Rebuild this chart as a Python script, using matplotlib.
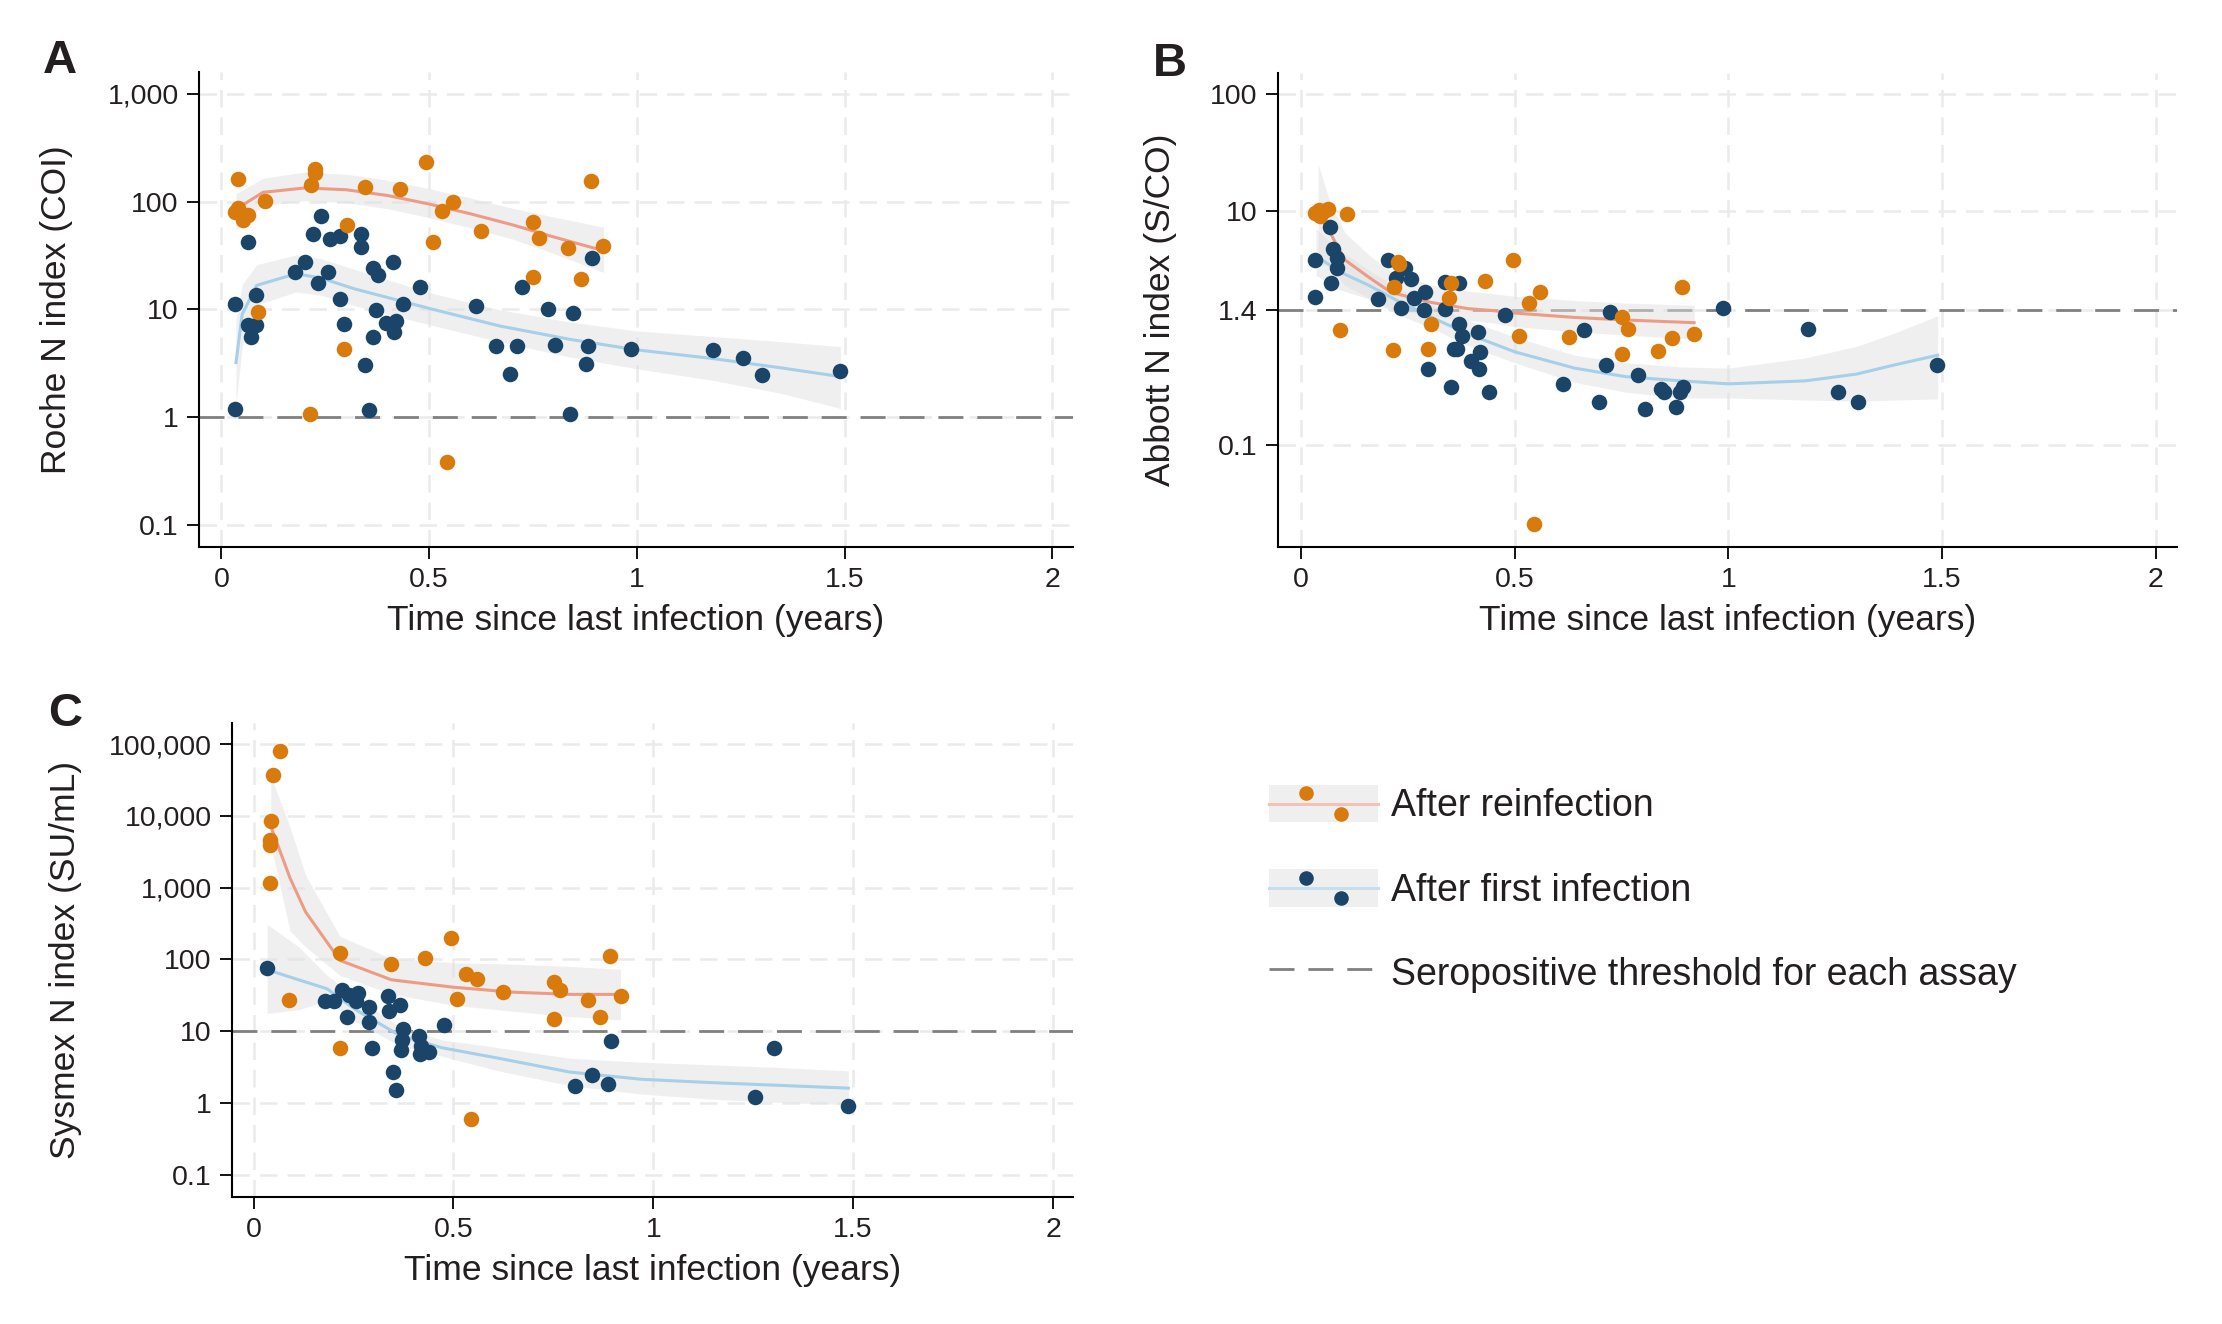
import numpy as np
import matplotlib
matplotlib.use('Agg')
import matplotlib.pyplot as plt
from matplotlib.legend_handler import HandlerBase
from matplotlib.patches import Rectangle, Patch
from matplotlib.lines import Line2D

plt.rcParams['font.family'] = ['Liberation Sans', 'DejaVu Sans']

# ---- data ----
# Panel A, Roche (COI)
a_re_t = [0.041, 0.033, 0.041, 0.051, 0.063, 0.105, 0.216, 0.225, 0.226, 0.345, 0.431, 0.492, 0.302, 0.530,
          0.557, 0.509, 0.624, 0.750, 0.765, 0.835, 0.890, 0.918, 0.750, 0.866, 0.089, 0.295, 0.214, 0.542]
a_re_y = [163, 80, 87, 68, 75, 101, 143, 203, 184, 137, 132, 232, 61, 82,
          100, 42, 53, 65, 46, 37, 157, 39, 19.9, 19.2, 9.5, 4.3, 1.07, 0.38]
a_fi_t = [0.033, 0.033, 0.065, 0.063, 0.072, 0.084, 0.084, 0.178, 0.202, 0.221, 0.233, 0.240, 0.256, 0.262,
          0.286, 0.286, 0.295, 0.336, 0.336, 0.346, 0.355, 0.365, 0.376, 0.371, 0.365, 0.395, 0.413, 0.420,
          0.415, 0.437, 0.477, 0.614, 0.660, 0.695, 0.712, 0.724, 0.786, 0.803, 0.840, 0.846, 0.877, 0.883,
          0.892, 0.986, 1.184, 1.256, 1.302, 1.489]
a_fi_y = [11.2, 1.18, 42, 7.1, 5.5, 13.6, 7.2, 22.4, 27.6, 50, 17.5, 74, 22, 45,
          48, 12.6, 7.3, 50, 37.6, 3.05, 1.16, 24, 21, 9.8, 5.5, 7.4, 27.4, 7.8,
          6.2, 11.2, 16, 10.8, 4.6, 2.5, 4.6, 16, 10.1, 4.7, 1.06, 9.2, 3.1, 4.6,
          30, 4.3, 4.2, 3.5, 2.45, 2.7]
a_re_fit_t = [0.035, 0.1, 0.2, 0.3, 0.4, 0.5, 0.6, 0.7, 0.8, 0.92]
a_re_fit = [85, 122, 134, 129, 114, 95, 77, 61, 47, 35]
a_re_hi = [118, 165, 188, 180, 158, 132, 108, 87, 72, 58]
a_re_lo = [55, 92, 102, 98, 86, 71, 57, 45, 33, 22]
a_fi_fit_t = [0.035, 0.05, 0.085, 0.18, 0.24, 0.32, 0.5, 0.67, 0.84, 1.0, 1.18, 1.35, 1.49]
a_fi_fit = [3.2, 9, 16.7, 21.4, 19.5, 15.5, 10.2, 7.0, 5.25, 4.2, 3.5, 2.85, 2.37]
a_fi_hi = [8, 17, 26, 32, 29.5, 23.5, 14.3, 9.9, 7.6, 6.3, 5.6, 5.0, 4.5]
a_fi_lo = [1.3, 4.5, 11, 14.5, 13.5, 10.8, 7.2, 5.0, 3.6, 2.8, 2.2, 1.65, 1.2]

# Panel B, Abbott (S/CO)
b_re_t = [0.033, 0.042, 0.045, 0.053, 0.063, 0.107, 0.090, 0.216, 0.218, 0.226, 0.230, 0.296, 0.303, 0.346,
          0.350, 0.431, 0.495, 0.511, 0.533, 0.560, 0.545, 0.626, 0.751, 0.751, 0.766, 0.836, 0.868, 0.891, 0.919]
b_re_y = [9.5, 10.2, 9.0, 9.9, 10.3, 9.3, 0.96, 0.64, 2.23, 3.65, 3.5, 0.66, 1.07, 1.78,
          2.4, 2.5, 3.8, 0.84, 1.61, 2.03, 0.0208, 0.83, 1.23, 0.59, 0.98, 0.63, 0.82, 2.23, 0.88]
b_fi_t = [0.033, 0.033, 0.067, 0.075, 0.070, 0.085, 0.085, 0.180, 0.203, 0.223, 0.233, 0.243, 0.258, 0.265,
          0.288, 0.291, 0.296, 0.336, 0.338, 0.350, 0.370, 0.370, 0.376, 0.358, 0.366, 0.398, 0.415, 0.418,
          0.416, 0.440, 0.478, 0.614, 0.661, 0.698, 0.714, 0.724, 0.788, 0.804, 0.843, 0.849, 0.878, 0.886,
          0.894, 0.988, 1.186, 1.257, 1.304, 1.489]
b_fi_y = [3.8, 1.84, 7.3, 4.7, 2.4, 3.96, 3.2, 1.76, 3.8, 2.63, 1.47, 3.24, 2.6, 1.78,
          1.42, 2.0, 0.44, 2.46, 1.43, 0.31, 2.4, 1.07, 0.85, 0.66, 0.65, 0.52, 0.92, 0.62,
          0.44, 0.28, 1.28, 0.33, 0.95, 0.23, 0.48, 1.37, 0.39, 0.2, 0.30, 0.28, 0.21, 0.28,
          0.31, 1.47, 0.98, 0.28, 0.23, 0.48]
b_re_fit_t = [0.04, 0.064, 0.102, 0.158, 0.21, 0.304, 0.391, 0.445, 0.5, 0.64, 0.76, 0.92]
b_re_fit = [9.0, 6.9, 3.8, 2.7, 2.0, 1.64, 1.45, 1.40, 1.33, 1.22, 1.16, 1.10]
b_re_hi = [25, 13, 6.5, 4.2, 3.0, 2.3, 2.05, 1.95, 1.85, 1.7, 1.62, 1.55]
b_re_lo = [3.5, 3.4, 2.3, 1.8, 1.45, 1.25, 1.15, 1.1, 1.02, 0.92, 0.86, 0.8]
b_fi_fit_t = [0.035, 0.09, 0.158, 0.225, 0.308, 0.391, 0.5, 0.64, 0.76, 0.89, 1.0, 1.18, 1.3, 1.39, 1.49]
b_fi_fit = [4.1, 3.0, 2.3, 1.7, 1.21, 0.88, 0.62, 0.45, 0.38, 0.35, 0.33, 0.35, 0.40, 0.48, 0.58]
b_fi_hi = [7.0, 4.6, 3.1, 2.2, 1.55, 1.15, 0.83, 0.58, 0.50, 0.46, 0.45, 0.55, 0.69, 0.9, 1.26]
b_fi_lo = [2.8, 2.1, 1.76, 1.3, 0.98, 0.70, 0.50, 0.34, 0.28, 0.25, 0.25, 0.24, 0.235, 0.24, 0.245]

# Panel C, Sysmex (SU/mL)
c_re_t = [0.066, 0.048, 0.043, 0.041, 0.041, 0.041, 0.089, 0.216, 0.216, 0.345, 0.430, 0.493, 0.509, 0.532,
          0.559, 0.543, 0.625, 0.752, 0.766, 0.752, 0.836, 0.866, 0.891, 0.918]
c_re_y = [80000, 37500, 8600, 4550, 3970, 1150, 27, 122, 5.9, 87, 104, 196, 28, 62,
          54, 0.6, 35, 49, 38, 15, 27, 15.8, 112, 31]
c_fi_t = [0.034, 0.179, 0.200, 0.221, 0.238, 0.261, 0.257, 0.234, 0.289, 0.288, 0.296, 0.336, 0.338, 0.366,
          0.348, 0.357, 0.375, 0.371, 0.368, 0.414, 0.420, 0.416, 0.439, 0.477, 0.804, 0.846, 0.886, 0.893,
          1.255, 1.302, 1.488]
c_fi_y = [76, 26, 26.5, 37, 32, 34, 26.5, 15.8, 22, 13.6, 5.9, 31, 18.9, 23,
          2.7, 1.5, 10.8, 7.5, 5.4, 8.6, 6.3, 4.8, 5.2, 12.1, 1.7, 2.45, 1.82, 7.2,
          1.21, 5.9, 0.9]
c_re_fit_t = [0.043, 0.091, 0.13, 0.216, 0.345, 0.5, 0.648, 0.791, 0.918]
c_re_fit = [7200, 1370, 460, 97, 52, 41, 35, 32.6, 32.6]
c_re_hi = [36000, 7000, 1500, 210, 103, 90, 86, 80, 73]
c_re_lo = [4000, 250, 150, 60, 33, 23, 19, 16, 14.4]
c_fi_fit_t = [0.034, 0.113, 0.184, 0.255, 0.363, 0.47, 0.613, 0.791, 0.97, 1.148, 1.327, 1.488]
c_fi_fit = [72, 52, 39, 20, 8.9, 5.9, 4.2, 2.7, 2.14, 1.92, 1.75, 1.61]
c_fi_hi = [308, 150, 60, 30, 11.7, 7.6, 5.9, 4.2, 3.7, 3.4, 3.1, 2.8]
c_fi_lo = [17.7, 20, 26.5, 13.5, 6.4, 4.5, 2.8, 1.75, 1.33, 1.13, 1.01, 0.95]

x_ticks = [0, 0.5, 1, 1.5, 2]
x_labels = ['0', '0.5', '1', '1.5', '2']
a_ticks = [0.1, 1, 10, 100, 1000]
a_labels = ['0.1', '1', '10', '100', '1,000']
b_ticks = [0.1, 1.4, 10, 100]
b_labels = ['0.1', '1.4', '10', '100']
c_ticks = [0.1, 1, 10, 100, 1000, 10000, 100000]
c_labels = ['0.1', '1', '10', '100', '1,000', '10,000', '100,000']

# ---- styles ----
ORANGE = '#d97a0c'
BLUE = '#1a4568'
ORANGE_LINE = '#ee9b85'
BLUE_LINE = '#a6cfea'
TEXT = '#231f20'
W, H = 2222, 1324


def px_axes(left, top, right, bottom):
    return [left / W, 1 - bottom / H, (right - left) / W, (bottom - top) / H]


def draw_panel(ax, re_t, re_y, fi_t, fi_y, re_fit, fi_fit, thresh, ylim, yticks, ylabels, ylab, lab_x):
    ax.set_yscale('log')
    ax.set_xlim(-0.054, 2.05)
    ax.set_ylim(*ylim)
    ax.grid(True, color='#ebebeb', lw=1.8, linestyle=(0, (7, 4)))
    ax.set_axisbelow(True)
    ax.axhline(thresh, color='#808080', lw=2, linestyle=(0, (9, 5)), zorder=1.5)
    for (t, f, lo, hi), col in [(fi_fit, BLUE_LINE), (re_fit, ORANGE_LINE)]:
        ax.fill_between(t, lo, hi, color='#e0e0e0', alpha=0.5, lw=0, zorder=2)
        ax.plot(t, f, color=col, lw=2.2, zorder=3)
    ax.scatter(fi_t, fi_y, s=125, color=BLUE, lw=0, zorder=4)
    ax.scatter(re_t, re_y, s=125, color=ORANGE, lw=0, zorder=5)
    ax.set_xticks(x_ticks, x_labels)
    ax.set_yticks(yticks, ylabels)
    ax.minorticks_off()
    ax.tick_params(direction='out', length=8.6, width=1.3, pad=6, labelsize=20.5,
                   labelcolor=TEXT, color='black')
    for s in ['top', 'right']:
        ax.spines[s].set_visible(False)
    for s in ['left', 'bottom']:
        ax.spines[s].set_linewidth(1.5)
    ax.set_xlabel('Time since last infection (years)', fontsize=25.5, color=TEXT, labelpad=8)
    ax.set_ylabel(ylab, fontsize=25.5, color=TEXT)
    ax.yaxis.set_label_coords(lab_x, 0.5)


class BandHandler(HandlerBase):
    def __init__(self, dot, line):
        super().__init__()
        self.dot = dot
        self.line = line

    def create_artists(self, legend, orig_handle, xdescent, ydescent, width, height, fontsize, trans):
        x0, y0 = -xdescent, -ydescent
        box = Rectangle((x0, y0), width, height, facecolor='#efefef', edgecolor='none', transform=trans)
        ln = Line2D([x0, x0 + width], [y0 + height / 2] * 2, color=self.line, lw=2.2, transform=trans)
        dots = Line2D([x0 + 0.34 * width, x0 + 0.66 * width], [y0 + 0.78 * height, y0 + 0.22 * height],
                      ls='none', marker='o', ms=10.5, mfc=self.dot, mec='none', transform=trans)
        return [box, ln, dots]


fig = plt.figure(figsize=(W / 100, H / 100), dpi=100)

ax_a = fig.add_axes(px_axes(199, 72, 1073, 547))
draw_panel(ax_a, a_re_t, a_re_y, a_fi_t, a_fi_y,
           (a_re_fit_t, a_re_fit, a_re_lo, a_re_hi), (a_fi_fit_t, a_fi_fit, a_fi_lo, a_fi_hi),
           1, (0.062, 1600), a_ticks, a_labels, 'Roche N index (COI)', -0.144)

ax_b = fig.add_axes(px_axes(1278, 73, 2177, 547))
draw_panel(ax_b, b_re_t, b_re_y, b_fi_t, b_fi_y,
           (b_re_fit_t, b_re_fit, b_re_lo, b_re_hi), (b_fi_fit_t, b_fi_fit, b_fi_lo, b_fi_hi),
           1.4, (0.0133, 150), b_ticks, b_labels, 'Abbott N index (S/CO)', -0.112)

ax_c = fig.add_axes(px_axes(232, 723, 1073, 1197))
draw_panel(ax_c, c_re_t, c_re_y, c_fi_t, c_fi_y,
           (c_re_fit_t, c_re_fit, c_re_lo, c_re_hi), (c_fi_fit_t, c_fi_fit, c_fi_lo, c_fi_hi),
           10, (0.049, 197000), c_ticks, c_labels, 'Sysmex N index (SU/mL)', -0.178)

for letter, x, y in [('A', 43, 73), ('B', 1153, 76), ('C', 48, 726)]:
    fig.text(x / W, 1 - y / H, letter, fontsize=34, fontweight='bold', color=TEXT, ha='left', va='baseline')

h_re = Patch(label='After reinfection')
h_fi = Patch(label='After first infection')
h_th = Line2D([], [], color='#808080', lw=2, linestyle=(0, (9, 5)), label='Seropositive threshold for each assay')
fig.legend(handles=[h_re, h_fi, h_th], loc='upper left', bbox_to_anchor=(1269 / W, 1 - 785 / H),
           frameon=False, fontsize=27, labelcolor=TEXT, borderpad=0, borderaxespad=0,
           handlelength=2.9, handleheight=1.15, handletextpad=0.35, labelspacing=1.2,
           handler_map={h_re: BandHandler(ORANGE, '#f2c2b5'), h_fi: BandHandler(BLUE, '#c6dfee')})

fig.savefig('out.png', dpi=100)
